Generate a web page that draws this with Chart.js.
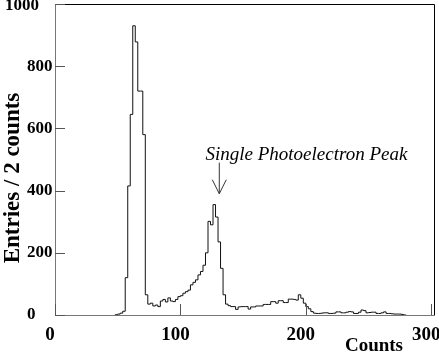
<!DOCTYPE html>
<html>
<head>
<meta charset="utf-8">
<script src="https://cdn.jsdelivr.net/npm/chart.js@4"></script>
<style>
  html, body { margin: 0; padding: 0; background: #fff; }
  #wrap { width: 439px; height: 354px; }
</style>
</head>
<body>
<div id="wrap"><canvas id="chart"></canvas></div>
<script>
// histogram, 2 counts per bin, first bin starts at 0
const binStart = 0;
const binWidth = 2;
const entries = [
  0, 0, 0, 0, 0, 0, 0, 0, 0, 0,            // 0-18
  0, 0, 0, 0, 0, 0, 0, 0, 0, 0,            // 20-38
  0, 0, 0, 0, 0, 1, 3, 6, 12, 120,         // 40-58
  415, 645, 930, 878, 720, 720, 580, 65, 35, 38,   // 60-78
  29, 32, 27, 45, 50, 42, 55, 45, 43, 50,  // 80-98
  59, 62, 70, 75, 80, 97, 105, 113, 129, 140,      // 100-118
  160, 200, 301, 290, 355, 315, 235, 150, 65, 35,  // 120-138
  30, 27, 27, 18, 26, 27, 27, 27, 19, 26,  // 140-158
  26, 29, 29, 29, 34, 34, 34, 43, 43, 38,  // 160-178
  46, 46, 40, 40, 51, 51, 50, 48, 65, 54,  // 180-198
  38, 27, 20, 11, 6, 5, 5, 6, 7, 7,        // 200-218
  5, 5, 6, 10, 10, 7, 7, 9, 11, 10,        // 220-238
  5, 5, 9, 16, 14, 7, 8, 9, 9, 5,          // 240-258
  5, 7, 10, 5, 5, 4, 3, 3, 3, 2,           // 260-278
  0, 0, 0, 0, 0, 0, 0, 0, 0, 0, 0          // 280-300
];
const xTicks = [0, 100, 200, 300];
const yTicks = [0, 200, 400, 600, 800, 1000];
const xMax = 303;
const yMax = 1000;
const xTitle = "Counts";
const yTitle = "Entries / 2 counts";
const peakText = "Single Photoelectron Peak";
const peakAt = 131;

const points = entries.map((v, i) => ({ x: binStart + i * binWidth, y: v }));
points.push({ x: binStart + entries.length * binWidth, y: 0 });

const serif = "'Liberation Serif', 'DejaVu Serif', serif";

const frame = {
  id: "frame",
  afterDraw(chart) {
    const { ctx, chartArea: a, scales: { x, y } } = chart;
    ctx.save();
    ctx.lineWidth = 1;
    // left and bottom axes grey, top and right black
    ctx.strokeStyle = "#777";
    ctx.beginPath();
    ctx.moveTo(a.left + 0.5, a.top);
    ctx.lineTo(a.left + 0.5, a.bottom + 0.5);
    ctx.lineTo(a.right, a.bottom + 0.5);
    ctx.stroke();
    ctx.strokeStyle = "#000";
    ctx.beginPath();
    ctx.moveTo(a.left, a.top + 0.5);
    ctx.lineTo(a.right - 0.5, a.top + 0.5);
    ctx.lineTo(a.right - 0.5, a.bottom);
    ctx.stroke();

    // inward tick marks
    ctx.strokeStyle = "#555";
    ctx.beginPath();
    yTicks.forEach((v) => {
      const py = Math.round(y.getPixelForValue(v)) + 0.5;
      ctx.moveTo(a.left, py);
      ctx.lineTo(a.left + 10, py);
    });
    xTicks.forEach((v) => {
      const px = Math.round(x.getPixelForValue(v)) + 0.5;
      ctx.moveTo(px, a.bottom);
      ctx.lineTo(px, a.bottom - 11);
    });
    ctx.stroke();

    // y tick labels: left aligned like the original, wide ones pushed left
    ctx.fillStyle = "#000";
    ctx.font = "bold 17px " + serif;
    ctx.textAlign = "left";
    ctx.textBaseline = "middle";
    yTicks.forEach((v) => {
      const s = String(v);
      const w = ctx.measureText(s).width;
      const lx = w > 30 ? 5 : 27;
      ctx.fillText(s, lx, Math.max(y.getPixelForValue(v), 6));
    });

    // axis titles
    ctx.font = "bold 19px " + serif;
    ctx.textAlign = "right";
    ctx.textBaseline = "middle";
    ctx.fillText(xTitle, a.right - 32, a.bottom + 31);
    ctx.save();
    ctx.translate(19, 178);
    ctx.rotate(-Math.PI / 2);
    ctx.font = "bold 23px " + serif;
    ctx.textAlign = "center";
    ctx.textBaseline = "alphabetic";
    ctx.fillText(yTitle, 0, 0);
    ctx.restore();

    // peak annotation and arrow
    const ax = x.getPixelForValue(peakAt);
    ctx.font = "italic 19px " + serif;
    ctx.textAlign = "left";
    ctx.textBaseline = "alphabetic";
    ctx.fillText(peakText, x.getPixelForValue(120), y.getPixelForValue(497));
    const y0 = y.getPixelForValue(490);
    const y1 = y.getPixelForValue(390);
    ctx.strokeStyle = "#333";
    ctx.beginPath();
    ctx.moveTo(ax, y0);
    ctx.lineTo(ax, y1);
    ctx.moveTo(ax - 7, y1 - 14);
    ctx.lineTo(ax, y1);
    ctx.lineTo(ax + 7, y1 - 14);
    ctx.stroke();
    ctx.restore();
  },
};

new Chart(document.getElementById("chart"), {
  type: "line",
  data: {
    datasets: [
      {
        data: points,
        stepped: "after",
        borderColor: "#111",
        borderWidth: 1,
        pointRadius: 0,
        fill: false,
        segment: {
          borderColor: (c) =>
            c.p0.parsed.y === 0 && c.p1.parsed.y === 0 ? "rgba(0,0,0,0)" : "#111",
        },
      },
    ],
  },
  options: {
    responsive: true,
    maintainAspectRatio: false,
    animation: false,
    layout: { padding: { top: 4, right: 4, left: 0, bottom: 0 } },
    plugins: { legend: { display: false }, tooltip: { enabled: false } },
    scales: {
      x: {
        type: "linear",
        min: 0,
        max: xMax,
        grid: { display: false },
        border: { display: false },
        afterBuildTicks: (s) => { s.ticks = xTicks.map((v) => ({ value: v })); },
        afterFit: (s) => { s.height = 39; s.paddingLeft = 0; s.paddingRight = 0; },
        ticks: {
          color: "#000",
          padding: 1,
          labelOffset: -5,
          maxRotation: 0,
          callback: (v) => String(v),
          font: { family: serif, weight: "bold", size: 19 },
        },
      },
      y: {
        min: 0,
        max: yMax,
        grid: { display: false },
        border: { display: false },
        afterBuildTicks: (s) => { s.ticks = yTicks.map((v) => ({ value: v })); },
        afterFit: (s) => { s.width = 55; s.paddingTop = 0; s.paddingBottom = 0; },
        ticks: { display: false },
      },
    },
  },
  plugins: [frame],
});
</script>
</body>
</html>
